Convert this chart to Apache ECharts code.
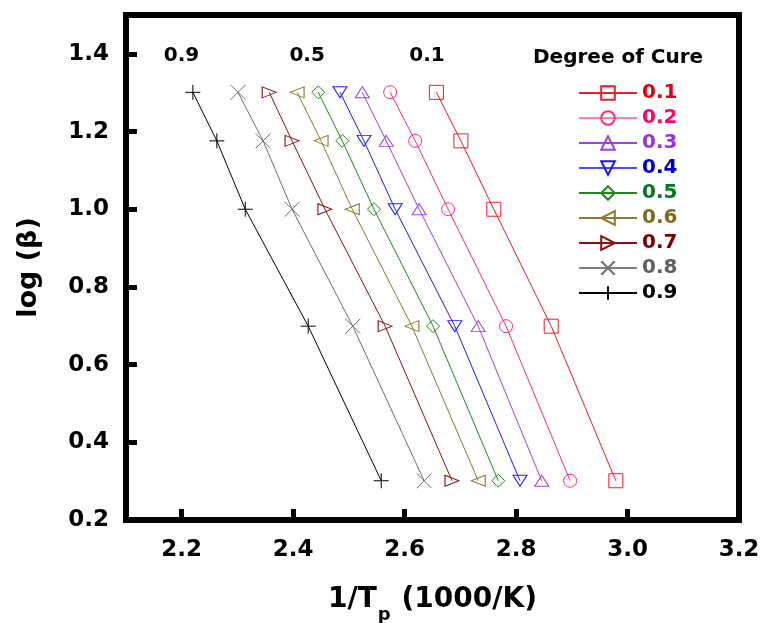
<!DOCTYPE html>
<html>
<head>
<meta charset="utf-8">
<script src="https://cdn.jsdelivr.net/npm/echarts@6/dist/echarts.min.js"></script>
<style>html,body{margin:0;padding:0;background:#fff}#c{width:763px;height:623px}</style>
</head>
<body>
<div id="c"></div>
<script>
// log(heating rate) levels
const logBeta = [1.301, 1.176, 1.0, 0.699, 0.301];
// degree of cure series names
const cureDegrees = ['0.1', '0.2', '0.3', '0.4', '0.5', '0.6', '0.7', '0.8', '0.9'];
// 1/Tp (1000/K) per degree of cure, one per logBeta level
const invTp01 = [2.657, 2.701, 2.760, 2.863, 2.979];
const invTp02 = [2.574, 2.619, 2.678, 2.782, 2.897];
const invTp03 = [2.524, 2.567, 2.626, 2.732, 2.846];
const invTp04 = [2.484, 2.527, 2.583, 2.690, 2.807];
const invTp05 = [2.445, 2.488, 2.545, 2.651, 2.768];
const invTp06 = [2.407, 2.450, 2.506, 2.613, 2.732];
const invTp07 = [2.357, 2.398, 2.457, 2.565, 2.685];
const invTp08 = [2.301, 2.346, 2.398, 2.507, 2.635];
const invTp09 = [2.220, 2.263, 2.314, 2.427, 2.558];
const xTicks = [2.2, 2.4, 2.6, 2.8, 3.0, 3.2];
const yTicks = [0.2, 0.4, 0.6, 0.8, 1.0, 1.2, 1.4];
// annotations inside the plot: [x, y, text]
const notes = [[2.1996, 1.395, '0.9'], [2.425, 1.395, '0.5'], [2.640, 1.395, '0.1']];

const allX = [invTp01, invTp02, invTp03, invTp04, invTp05, invTp06, invTp07, invTp08, invTp09];
const lineColors = ['#ee1c24', '#ff2a7a', '#a040e8', '#1a1aff', '#1a8c1a', '#8f7a30', '#8b1010', '#707070', '#000000'];
const legendLineColors = ['#ee1c24', '#ff80aa', '#a040e8', '#4a4aff', '#1a8c1a', '#8f7a30', '#8b1010', '#808080', '#000000'];
const textColors = ['#e00010', '#ff0066', '#9933dd', '#0000cc', '#007a20', '#806a1c', '#780000', '#606060', '#000000'];
const symbols = [
  'rect', 'circle', 'triangle',
  'path://M0,0 L14,0 L7,11 Z',
  'diamond',
  'path://M14,0 L0,5.5 L14,11 Z',
  'path://M0,0 L14,5.5 L0,11 Z',
  'path://M0,0 L14,14 M14,0 L0,14',
  'path://M0,7 L14,7 M7,0 L7,14'
];
const sizes = [14, 13, [14, 11], [14, 11], [13, 13], [14, 11], [14, 11], 15, 15];
const FONT = 'DejaVu Sans';

const series = cureDegrees.map((name, i) => ({
  name: name,
  type: 'line',
  data: allX[i].map((x, j) => [x, logBeta[j]]),
  symbol: symbols[i],
  symbolSize: sizes[i],
  showAllSymbol: true,
  lineStyle: { color: lineColors[i], width: 1 },
  itemStyle: { color: 'rgba(0,0,0,0)', borderColor: lineColors[i], borderWidth: 1 },
  emphasis: { disabled: true },
  animation: false,
  z: 3
}));
series.push({
  type: 'scatter',
  data: notes,
  symbolSize: 0,
  silent: true,
  animation: false,
  itemStyle: { opacity: 1 },
  label: {
    show: true, position: 'inside', formatter: p => p.value[2], opacity: 1,
    fontFamily: FONT, fontWeight: 'bold', fontSize: 20, color: '#000'
  }
});

const chart = echarts.init(document.getElementById('c'), null, { renderer: 'canvas' });
chart.setOption({
  backgroundColor: '#fff',
  animation: false,
  grid: { left: 126, right: 24, top: 15, bottom: 103, outerBoundsMode: 'none', containLabel: false, show: true, borderColor: '#000', borderWidth: 6, backgroundColor: 'transparent' },
  title: {
    text: 'Degree of Cure', left: 533, top: 48, padding: 0,
    textStyle: { fontFamily: FONT, fontWeight: 'bold', fontSize: 20, color: '#000' }
  },
  legend: {
    orient: 'vertical', left: 578, top: 83, padding: 0,
    itemWidth: 58, itemHeight: 17, itemGap: 5,
    data: cureDegrees.map((n, i) => ({ name: n, textStyle: { color: textColors[i] }, lineStyle: { color: legendLineColors[i] } })),
    textStyle: { fontFamily: FONT, fontWeight: 'bold', fontSize: 20, lineHeight: 17 },
    selectedMode: false
  },
  xAxis: {
    type: 'value', min: 2.1, max: 3.2,
    axisLine: { show: false },
    splitLine: { show: false },
    axisTick: { show: true, inside: true, length: 11, customValues: xTicks, lineStyle: { color: '#000', width: 5 } },
    axisLabel: { customValues: xTicks, formatter: v => v.toFixed(1), margin: 19, fontFamily: FONT, fontWeight: 'bold', fontSize: 23, color: '#000' },
    name: '{a|1/T}{b|p}{a| (1000/K)}',
    nameLocation: 'middle', nameGap: 65,
    nameTextStyle: {
      rich: {
        a: { fontFamily: FONT, fontWeight: 'bold', fontSize: 28, lineHeight: 30, color: '#000' },
        b: { fontFamily: FONT, fontWeight: 'bold', fontSize: 18, lineHeight: 18, padding: [30, 1, 0, 1], color: '#000' }
      }
    }
  },
  yAxis: {
    type: 'value', min: 0.2, max: 1.5, interval: 0.2,
    axisLine: { show: false },
    splitLine: { show: false },
    axisTick: { show: true, inside: true, length: 11, customValues: yTicks, lineStyle: { color: '#000', width: 5 } },
    axisLabel: { customValues: yTicks, formatter: v => v.toFixed(1), margin: 17, fontFamily: FONT, fontWeight: 'bold', fontSize: 23, color: '#000' },
    name: 'log (β)', nameLocation: 'middle', nameGap: 84, nameRotate: 90,
    nameTextStyle: { fontFamily: FONT, fontWeight: 'bold', fontSize: 27, color: '#000' }
  },
  series: series
});
</script>
</body>
</html>
